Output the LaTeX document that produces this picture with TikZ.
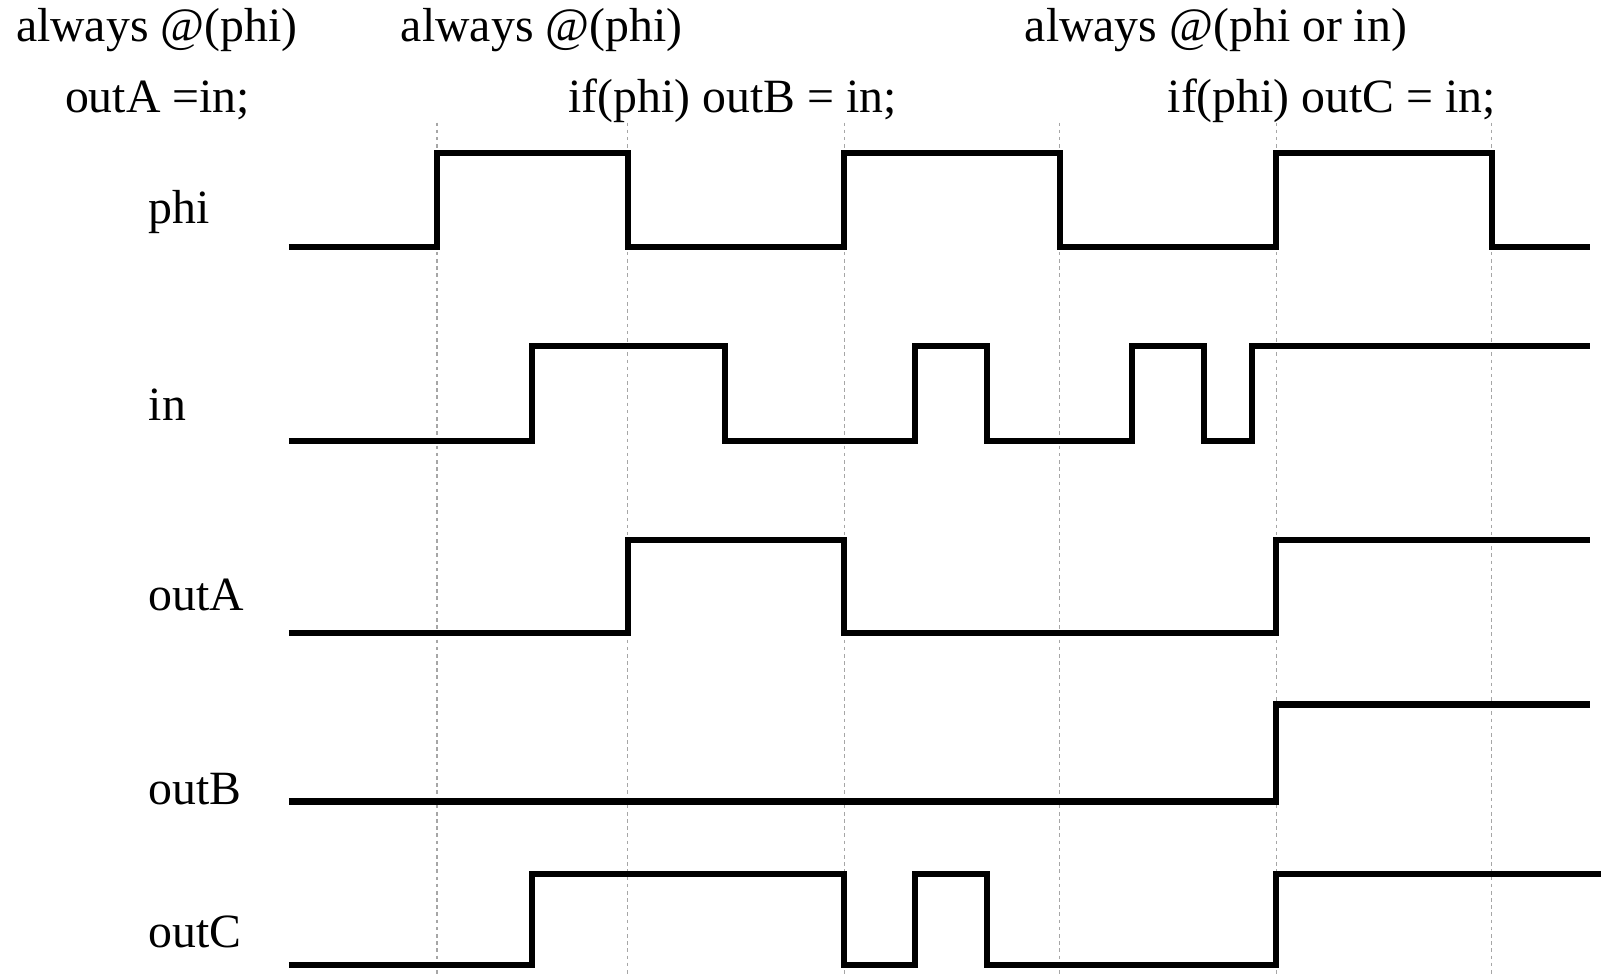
\documentclass[tikz,border=0pt]{standalone}
\usepackage{fontspec}
\setmainfont{Liberation Serif}
\begin{document}
\begin{tikzpicture}[x=0.01cm, y=-0.01cm,
 font=\fontsize{13.3}{16}\selectfont,
 sig/.style={line width=1.7pt},
 tick/.style={gray!70, line width=0.3pt, dash pattern=on 1pt off 1pt},
 lbl/.style={anchor=base west, inner sep=0pt}]
 \useasboundingbox (0,0) rectangle (1568,954);
 % phase marks
 \foreach \t in {428,615,827,1038,1250,1461}
  \draw[tick] (\t,120) -- (\t,954);
 % code on top
 \node[lbl] (codeA1) at (15,41) {always @(phi)};
 \node[lbl] (codeA2) at (63,110) {outA =in;};
 \node[lbl] (codeB1) at (392,41) {always @(phi)};
 \node[lbl] (codeB2) at (556,110) {if(phi) outB = in;};
 \node[lbl] (codeC1) at (1003,41) {always @(phi or in)};
 \node[lbl] (codeC2) at (1143,110) {if(phi) outC = in;};
 % signal names
 \node[lbl] (nphi) at (145,219) {phi};
 \node[lbl] (nin) at (145,412) {in};
 \node[lbl] (noutA) at (145,598) {outA};
 \node[lbl] (noutB) at (145,788) {outB};
 \node[lbl] (noutC) at (145,928) {outC};
 % waveforms
 \draw[sig] (283,242) -| (428,150) -| (615,242) -| (827,150) -| (1038,242)
  -| (1250,150) -| (1461,242) -- (1557,242);
 \draw[sig] (283,432) -| (521,339) -| (710,432) -| (896,339) -| (967,432)
  -| (1109,339) -| (1179,432) -| (1226,339) -- (1557,339);
 \draw[sig] (283,620) -| (615,529) -| (827,620) -| (1250,529) -- (1557,529);
 \draw[sig] (283,785) -| (1250,690) -- (1557,690);
 \draw[sig] (283,945) -| (521,856) -| (827,945) -| (896,856) -| (967,945)
  -| (1250,856) -- (1568,856);
\end{tikzpicture}
\end{document}
